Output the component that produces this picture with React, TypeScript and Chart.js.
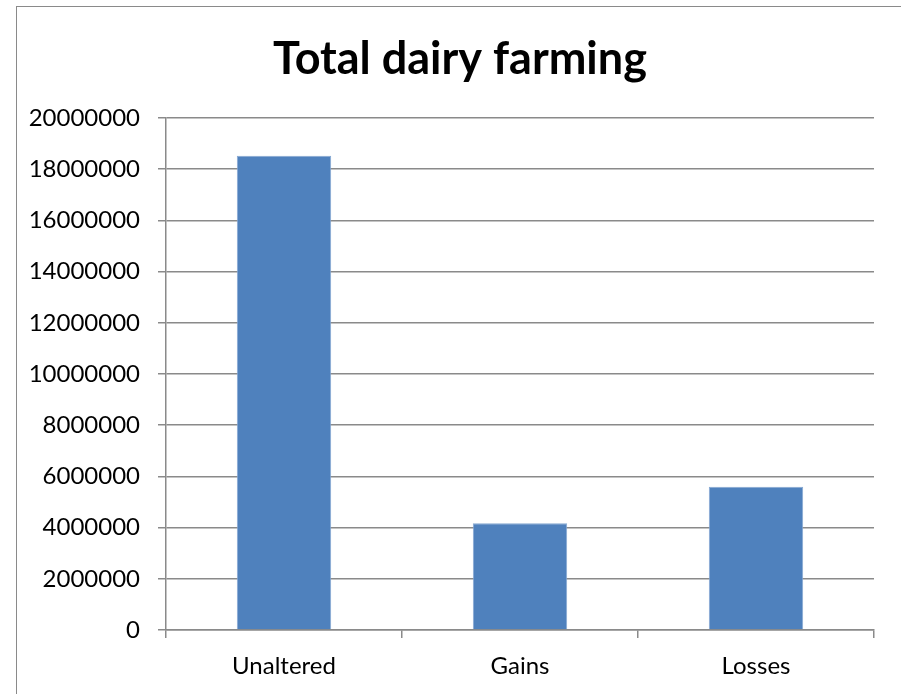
import React, { useEffect, useRef } from "react";
import { Chart, registerables } from "chart.js";

Chart.register(...registerables);

const categories: string[] = ["Unaltered", "Gains", "Losses"];
const totals: number[] = [18530000, 4170000, 5600000];
const chartTitle = "Total dairy farming";
const yMin = 0;
const yMax = 20000000;
const yStep = 2000000;

const FONT = "Lato, 'Liberation Sans', sans-serif";
const AXIS_GRAY = "#8a8a8a";

const titlePlugin = {
  id: "frameTitle",
  afterDraw(chart: Chart) {
    const ctx = chart.ctx;
    ctx.save();
    ctx.font = `bold 45px ${FONT}`;
    ctx.fillStyle = "#000";
    ctx.textAlign = "center";
    ctx.textBaseline = "alphabetic";
    ctx.fillText(chartTitle, 460, 74);
    ctx.restore();
  },
};

export default function App() {
  const canvasRef = useRef<HTMLCanvasElement | null>(null);

  useEffect(() => {
    if (!canvasRef.current) return;
    const chart = new Chart(canvasRef.current, {
      type: "bar",
      data: {
        labels: categories,
        datasets: [
          {
            label: chartTitle,
            data: totals,
            backgroundColor: "#4F81BD",
            borderColor: "#86a8d2",
            borderWidth: 1,
            categoryPercentage: 1,
            barPercentage: 0.4,
          },
        ],
      },
      options: {
        responsive: false,
        animation: false,
        layout: { padding: { top: 118, right: 27, left: 0, bottom: 0 } },
        plugins: {
          legend: { display: false },
          title: { display: false },
          tooltip: { enabled: false },
        },
        scales: {
          x: {
            grid: {
              display: true,
              drawOnChartArea: false,
              drawTicks: true,
              tickLength: 8,
              color: AXIS_GRAY,
              lineWidth: 1.5,
              offset: true,
            },
            border: { display: true, color: AXIS_GRAY, width: 1.5 },
            ticks: {
              color: "#000",
              font: { family: FONT, size: 24 },
              padding: 14,
              maxRotation: 0,
            },
            afterFit(scale: any) {
              scale.height = 64;
            },
          },
          y: {
            min: yMin,
            max: yMax,
            grid: {
              color: AXIS_GRAY,
              lineWidth: 1.5,
              tickLength: 8,
              drawTicks: true,
            },
            border: { display: true, color: AXIS_GRAY, width: 1.5 },
            ticks: {
              stepSize: yStep,
              color: "#000",
              font: { family: FONT, size: 24 },
              padding: 18,
              callback: (v: any) => String(v),
            },
            afterFit(scale: any) {
              scale.width = 166;
            },
          },
        },
      },
      plugins: [titlePlugin],
    });
    return () => chart.destroy();
  }, []);

  return (
    <div
      style={{
        position: "absolute",
        left: 0,
        top: 0,
        width: 901,
        height: 694,
        overflow: "hidden",
        background: "#fff",
      }}
    >
      <div
        style={{
          position: "absolute",
          left: 16,
          top: 6,
          width: 1000,
          height: 1000,
          borderLeft: `1px solid ${AXIS_GRAY}`,
          borderTop: `1px solid ${AXIS_GRAY}`,
        }}
      />
      <canvas
        ref={canvasRef}
        width={901}
        height={694}
        style={{ position: "absolute", left: 0, top: 0 }}
      />
    </div>
  );
}
